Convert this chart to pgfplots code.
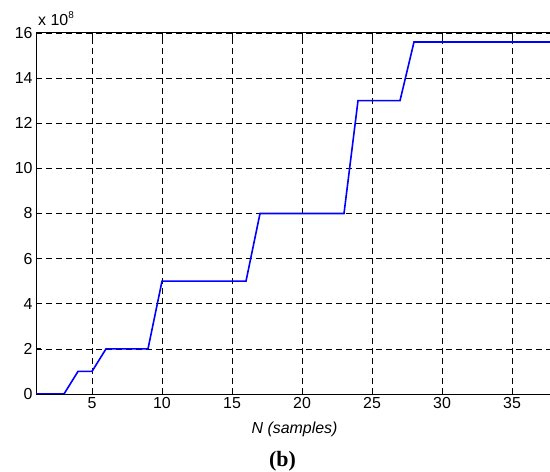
\documentclass[border=0pt]{standalone}
\usepackage{fontspec}
\setmainfont{Liberation Sans}
\newfontfamily\serifb{Liberation Serif}
\usepackage{pgfplots}
\pgfplotsset{compat=1.18}

\begin{document}
\begin{tikzpicture}
\path[use as bounding box] (0,0) rectangle (550bp,472bp);
\begin{axis}[
    at={(36bp,78bp)}, anchor=south west,
    scale only axis, width=514bp, height=361bp,
    xmin=1, xmax=37.714, ymin=0, ymax=16,
    axis x line=box, axis y line=left,
    axis line style={line width=1bp, -},
    xtick={5,10,...,35}, ytick={0,2,...,16},
    tick align=inside, major tick length=5bp,
    tick style={black, line width=0.8bp},
    grid=major,
    major grid style={black, line width=0.7bp, dash pattern=on 6bp off 4bp},
    /pgf/number format/assume math mode=true,
    ticklabel style={font=\fontsize{16}{18}\selectfont},
    xlabel={\itshape N (samples)},
    xlabel style={font=\fontsize{16}{18}\selectfont, at={(rel axis cs:0.503,0)}, anchor=center, yshift=-35bp},
    clip mode=individual,
]
\addplot[blue, line width=1.6bp] coordinates {
    (1,0) (3,0) (4,1) (5,1) (6,2) (9,2) (10,5) (16,5) (17,8) (23,8)
    (24,13) (27,13) (28,15.6) (38,15.6)
};
\node[anchor=base west, inner sep=0pt, font=\fontsize{16}{18}\selectfont]
    at (rel axis cs:0,1) [xshift=2bp, yshift=7bp] {x 10\raisebox{7bp}{\fontsize{10}{12}\selectfont 8}};
\node[anchor=center, inner sep=0pt, font=\serifb\bfseries\fontsize{22}{24}\selectfont]
    at (rel axis cs:0.4796,0) [yshift=-67bp] {(b)};
\end{axis}
\end{tikzpicture}
\end{document}
